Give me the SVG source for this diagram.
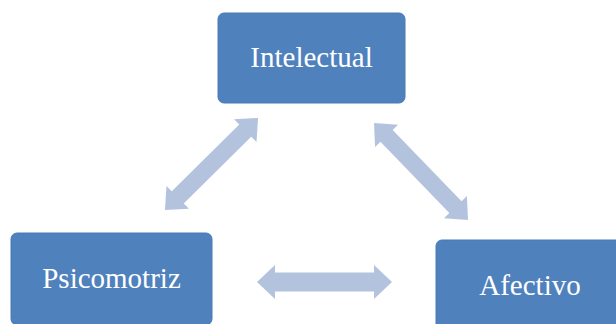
<svg xmlns="http://www.w3.org/2000/svg" width="616" height="324" viewBox="0 0 616 324">
<style>
.box{fill:#4F81BD;stroke:#4A7AB5;stroke-width:1}
.lbl{font-family:"Liberation Serif","Times New Roman",serif;font-size:29px;fill:#FFFFFF;text-anchor:middle}
.arr{fill:#B3C3DE}
</style>
<rect width="616" height="324" fill="#FFFFFF"/>
<g id="connectors">
<polygon class="arr" transform="translate(211.5,164) rotate(-44.7)" points="-65.5,0 -47.5,-16 -47.5,-8.5 47.5,-8.5 47.5,-16 65.5,0 47.5,16 47.5,8.5 -47.5,8.5 -47.5,16"/>
<polygon class="arr" transform="translate(421,171.5) rotate(45.9)" points="-67.5,0 -49.5,-16 -49.5,-8.5 49.5,-8.5 49.5,-16 67.5,0 49.5,16 49.5,8.5 -49.5,8.5 -49.5,16"/>
<polygon class="arr" transform="translate(324.5,282)" points="-67.5,0 -49.5,-17 -49.5,-9.5 49.5,-9.5 49.5,-17 67.5,0 49.5,17 49.5,9.5 -49.5,9.5 -49.5,17"/>
</g>
<g id="intelectual">
<rect class="box" x="218" y="13" width="187" height="90" rx="6"/>
<text class="lbl" x="311.5" y="67">Intelectual</text>
</g>
<g id="psicomotriz">
<rect class="box" x="11" y="233" width="201" height="92" rx="6"/>
<text class="lbl" x="111.5" y="288">Psicomotriz</text>
</g>
<g id="afectivo">
<rect class="box" x="436" y="240" width="190" height="92" rx="6"/>
<text class="lbl" x="530" y="295">Afectivo</text>
</g>
</svg>
